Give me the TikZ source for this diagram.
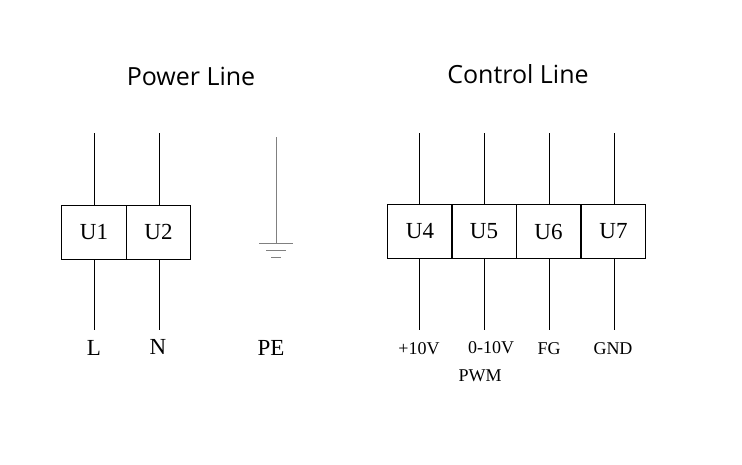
\documentclass[tikz,border=0pt]{standalone}
\usepackage{fontspec}
\setmainfont{Liberation Serif}
\newfontfamily\titlefont{Open Sans}
\tikzset{every picture/.style={line width=0.75pt}}
\tikzset{
  term/.style={draw, minimum width=64.5pt, minimum height=54pt, inner sep=0pt, font=\fontsize{23}{26}\selectfont},
  lbl/.style={inner sep=0.75pt, font=\fontsize{23}{26}\selectfont},
  slbl/.style={inner sep=0.75pt, font=\fontsize{18}{21}\selectfont},
  ttl/.style={inner sep=0.75pt, font=\titlefont\fontsize{25}{28}\selectfont},
}
\begin{document}
\begin{tikzpicture}[x=1pt,y=1pt,yscale=-1,xscale=1]
\useasboundingbox (0,0) rectangle (742,464);

% Titles
\node[ttl] (tpow) at (191,76) {Power Line};
\node[ttl] (tctl) at (518,74) {Control Line};

% Power terminals
\node[term] (u1) at (94,232) {U1};
\node[term] (u2) at (158.5,232) {U2};
\coordinate (u1t) at (94,133); \coordinate (u1b) at (94,330);
\coordinate (u2t) at (159,133); \coordinate (u2b) at (159,330);
\draw (u1t) -- (u1t |- u1.north);
\draw (u1.south) -- (u1b);
\draw (u2t) -- (u2t |- u2.north);
\draw (u2t |- u2.south) -- (u2b);
\node[lbl] (nl) at (94,348) {L};
\node[lbl] (nn) at (158,347) {N};

% Ground
\coordinate (gt) at (276,137);
\coordinate (gb) at (276,243);
\draw[gray, line width=0.6pt] (gt) -- (gb);
\draw[gray, line width=0.6pt] (259,243) -- (293,243) (266,250) -- (286,250) (271,257) -- (281,257);
\node[lbl] (npe) at (271,348) {PE};

% Control terminals
\node[term] (u4) at (420,231.5) {U4};
\node[term] (u5) at (484,231.5) {U5};
\node[term] (u6) at (548.5,231.5) {U6};
\node[term] (u7) at (613.5,231.5) {U7};
\foreach \n/\x in {u4/419,u5/484,u6/549,u7/614}{
  \draw (\x,133) -- (\x,204);
  \draw (\x,259) -- (\x,330);
}
\node[slbl] (n10) at (419,349) {+10V};
\node[slbl] (n010) at (491,348) {0-10V};
\node[slbl] (npwm) at (480,376) {PWM};
\node[slbl] (nfg) at (549,349) {FG};
\node[slbl] (ngnd) at (613,349) {GND};

\end{tikzpicture}
\end{document}
